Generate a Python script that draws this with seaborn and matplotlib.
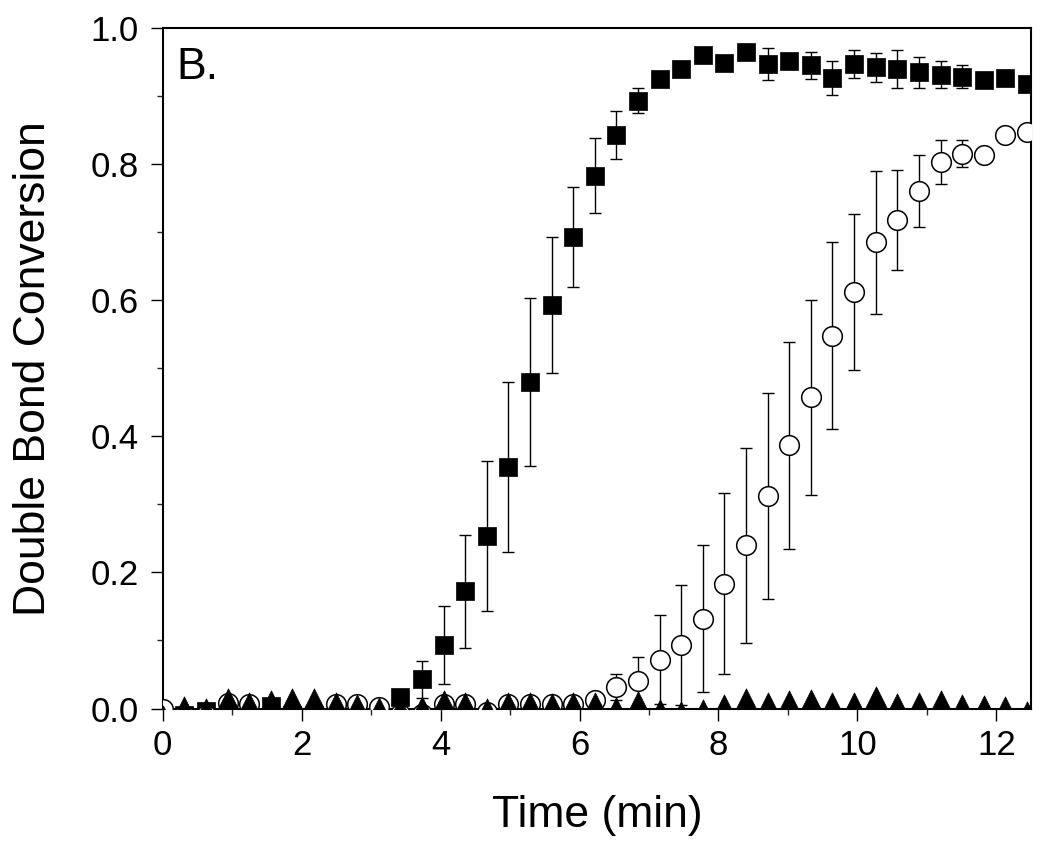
import numpy as np
import pandas as pd
import seaborn as sns
import matplotlib.pyplot as plt
from matplotlib.ticker import MultipleLocator

# Sampling times (min), one scan every ~0.311 min
step = 0.311
time = np.arange(41) * step

# Double bond conversion, filled squares
squares = [-0.01, -0.01, -0.003, -0.01, -0.01, 0.003, -0.01, -0.01, -0.01, -0.01, -0.01,
           0.017, 0.043, 0.093, 0.172, 0.254, 0.355, 0.48, 0.593, 0.693, 0.783,
           0.843, 0.893, 0.925, 0.94, 0.96, 0.948, 0.965, 0.947, 0.951, 0.945,
           0.927, 0.947, 0.942, 0.94, 0.935, 0.931, 0.928, 0.924, 0.927, 0.918]
squares_err = [0, 0, 0, 0, 0, 0, 0, 0, 0, 0, 0,
               0.005, 0.027, 0.057, 0.083, 0.11, 0.125, 0.123, 0.1, 0.073, 0.055,
               0.035, 0.018, 0.005, 0.005, 0.004, 0.004, 0.004, 0.024, 0.006, 0.02,
               0.025, 0.021, 0.021, 0.028, 0.023, 0.02, 0.017, 0.004, 0.003, 0.01]

# open circles
circles = [0.0, -0.01, -0.01, 0.008, 0.006, -0.008, -0.008, -0.008, 0.006, 0.006, 0.002,
           -0.008, -0.008, 0.007, 0.007, -0.005, 0.007, 0.007, 0.007, 0.007, 0.012,
           0.032, 0.04, 0.072, 0.093, 0.132, 0.183, 0.24, 0.312, 0.387, 0.457,
           0.548, 0.612, 0.685, 0.718, 0.76, 0.803, 0.815, 0.813, 0.843, 0.847]
circles_err = [0, 0, 0, 0, 0, 0, 0, 0, 0, 0, 0,
               0, 0, 0, 0, 0, 0, 0, 0, 0, 0.01,
               0.019, 0.035, 0.066, 0.088, 0.108, 0.133, 0.143, 0.151, 0.152, 0.143,
               0.137, 0.115, 0.105, 0.073, 0.053, 0.033, 0.02, 0.008, 0.005, 0.005]

# filled triangles (stay near zero)
triangles = [-0.012, 0.0015, -0.0015, 0.012, 0.006, 0.009, 0.013, 0.012, 0.006, 0.004, 0.0,
             0.0, 0.0015, 0.009, 0.007, -0.0015, 0.007, 0.007, 0.005, 0.007, 0.007,
             0.0, 0.008, -0.003, -0.007, -0.003, 0.003, 0.013, 0.007, 0.01, 0.011,
             0.007, 0.007, 0.015, 0.005, 0.006, 0.01, 0.003, 0.002, 0.001, -0.006]

df = pd.DataFrame({'time': time, 'sq': squares, 'sq_err': squares_err,
                   'ci': circles, 'ci_err': circles_err, 'tri': triangles})

sns.set_style("ticks")
plt.rcParams['font.family'] = ['Liberation Sans', 'DejaVu Sans']
plt.rcParams['text.color'] = 'black'
plt.rcParams['axes.labelcolor'] = 'black'

fig, ax = plt.subplots(figsize=(10.5, 8.46), dpi=100)
fig.subplots_adjust(left=0.155, right=0.982, bottom=0.1625, top=0.967)

# squares
ax.errorbar(df['time'], df['sq'], yerr=df['sq_err'], fmt='none', ecolor='black',
            elinewidth=1.0, capsize=4, capthick=1.0, zorder=2)
sns.scatterplot(data=df, x='time', y='sq', marker='s', s=150, color='black',
                edgecolor='black', linewidth=0.5, ax=ax, zorder=3)

# circles
ax.errorbar(df['time'], df['ci'], yerr=df['ci_err'], fmt='none', ecolor='black',
            elinewidth=1.0, capsize=4, capthick=1.0, zorder=4)
sns.scatterplot(data=df, x='time', y='ci', marker='o', s=200, color='white',
                edgecolor='black', linewidth=1.1, ax=ax, zorder=5)

# triangles
sns.scatterplot(data=df, x='time', y='tri', marker='^', s=280, color='black',
                edgecolor='black', linewidth=0.5, ax=ax, zorder=6)

ax.set_xlim(0, 12.5)
ax.set_ylim(0, 1.0)
ax.xaxis.set_major_locator(MultipleLocator(2))
ax.xaxis.set_minor_locator(MultipleLocator(1))
ax.yaxis.set_major_locator(MultipleLocator(0.2))
ax.yaxis.set_minor_locator(MultipleLocator(0.1))
ax.yaxis.set_major_formatter(plt.FuncFormatter(lambda v, p: f"{v:.1f}"))

ax.tick_params(which='major', direction='out', length=8.5, width=1.0,
               labelsize=25, colors='black')
ax.tick_params(axis='y', which='major', pad=9)
ax.tick_params(axis='x', which='major', pad=6)
ax.tick_params(which='minor', direction='out', length=4, width=1.0)
ax.tick_params(top=False, right=False, which='both')
for side in ['top', 'right', 'bottom', 'left']:
    ax.spines[side].set_visible(True)
    ax.spines[side].set_linewidth(1.5)
    ax.spines[side].set_color('black')

ax.set_xlabel("Time (min)", fontsize=32, labelpad=24)
ax.set_ylabel("Double Bond Conversion", fontsize=32, labelpad=26)
ax.text(0.2, 0.972, "B.", fontsize=32, va='top', ha='left', color='black')

plt.savefig("out.png", dpi=100)
